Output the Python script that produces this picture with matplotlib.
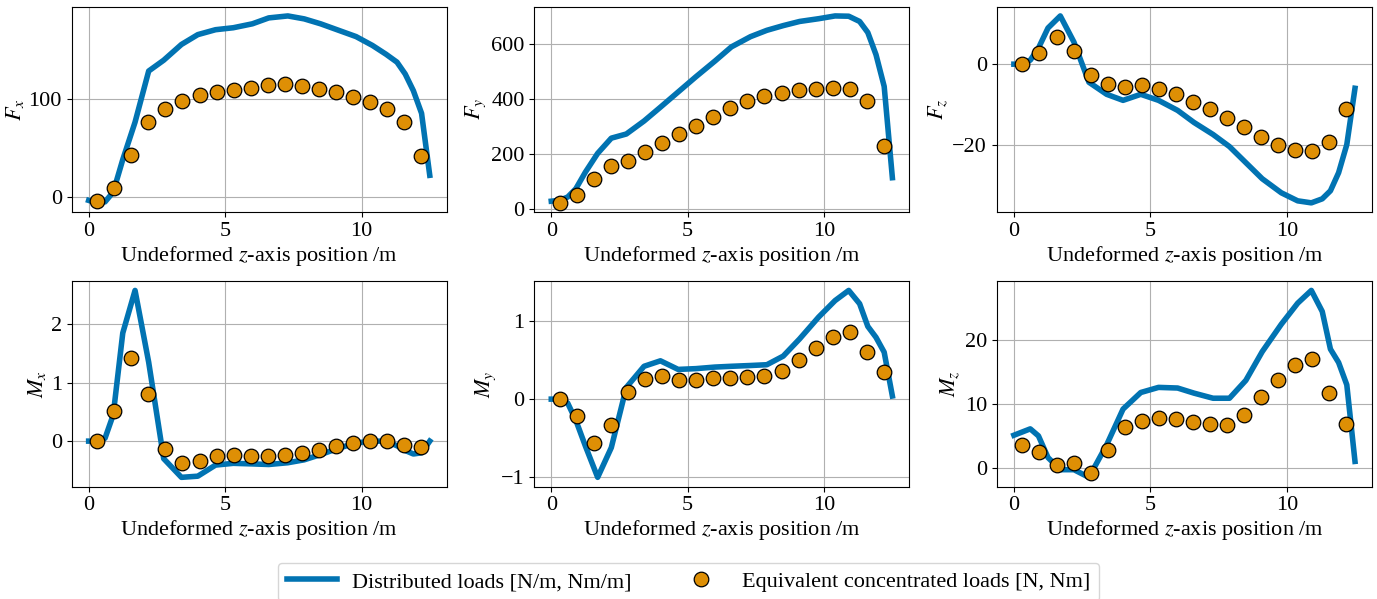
import matplotlib
matplotlib.use('Agg')
import matplotlib.pyplot as plt
from matplotlib.ticker import MultipleLocator
import numpy as np

plt.rcParams['font.family'] = ['Liberation Serif', 'DejaVu Serif']
plt.rcParams['mathtext.fontset'] = 'stix'
plt.rcParams['font.size'] = 16

BLU = '#0173B2'
ARANCIO = '#DE8F05'

# stazioni della linea (carichi distribuiti) e dei punti (carichi concentrati)
z_linea = [0, 0.3, 0.6, 0.9, 1.25, 1.7, 2.2, 2.75, 3.4, 4.0, 4.65, 5.3, 6.0,
           6.6, 7.3, 7.9, 8.5, 9.1, 9.8, 10.4, 10.9, 11.3, 11.6, 11.9, 12.2, 12.5]
z_punti = [0.3125, 0.9375, 1.5625, 2.1875, 2.8125, 3.4375, 4.0625, 4.6875,
           5.3125, 5.9375, 6.5625, 7.1875, 7.8125, 8.4375, 9.0625, 9.6875,
           10.3125, 10.9375, 11.5625, 12.1875]

Fx_dist = [-3.5, -6, -5, 5, 38, 76, 128, 139, 155, 165, 170, 172, 176,
           182, 184, 181, 176, 170, 163, 154, 145, 137, 125, 108, 85, 22]
Fx_conc = [-3.7, 9.2, 43, 76, 89, 98, 104, 107, 108.5, 111, 114, 115, 113,
           110, 106.5, 102, 96.6, 89, 76, 42]

Fy_dist = [30, 33, 45, 75, 135, 203, 258, 273, 320, 370, 425, 480, 537,
           588, 625, 648, 665, 680, 690, 700, 699, 680, 640, 560, 445, 115]
Fy_conc = [24, 51, 112, 159, 177, 207, 240, 272, 301, 335, 366, 392, 410,
           420, 431, 437, 440, 436, 392, 229]

Fz_dist = [0, 0, 1.0, 4, 9, 12, 5.5, -4.5, -7.5, -9, -7.5, -9, -11.5,
           -14.5, -17.5, -20.5, -24.5, -28.5, -32, -34, -34.5, -33.5, -31.5,
           -27, -20, -6]
Fz_conc = [0, 2.7, 6.7, 3.3, -2.7, -5, -5.6, -5.25, -6.1, -7.5, -9.4, -11.25,
           -13.3, -15.6, -18.1, -20.2, -21.4, -21.6, -19.4, -11.25]

Mx_dist = [0, 0, 0.05, 0.45, 1.85, 2.58, 1.35, -0.3, -0.62, -0.6, -0.41,
           -0.38, -0.39, -0.4, -0.37, -0.32, -0.23, -0.13, -0.03, 0.0, 0.0,
           -0.08, -0.16, -0.22, -0.2, 0.0]
Mx_conc = [0.01, 0.52, 1.43, 0.81, -0.14, -0.37, -0.34, -0.26, -0.24, -0.25,
           -0.25, -0.24, -0.2, -0.15, -0.09, -0.04, 0.01, 0.0, -0.07, -0.1]

My_dist = [0, 0, -0.05, -0.27, -0.6, -1.0, -0.62, 0.15, 0.42, 0.49, 0.38,
           0.39, 0.41, 0.42, 0.43, 0.44, 0.55, 0.77, 1.05, 1.26, 1.39, 1.22,
           0.93, 0.79, 0.6, 0.04]
My_conc = [0, -0.21, -0.56, -0.33, 0.09, 0.26, 0.3, 0.25, 0.25, 0.27, 0.27,
           0.28, 0.29, 0.36, 0.5, 0.65, 0.79, 0.86, 0.6, 0.35]

Mz_dist = [5.1, 5.6, 6.1, 5.0, 1.6, -0.3, -0.3, -1.5, 3.6, 9.2, 11.8, 12.6,
           12.5, 11.7, 10.9, 10.9, 13.7, 18.2, 22.5, 25.8, 27.8, 24.5, 18.6,
           16.5, 13, 1.0]
Mz_conc = [3.6, 2.4, 0.4, 0.7, -0.8, 2.8, 6.4, 7.3, 7.8, 7.6, 7.2, 6.9, 6.7,
           8.3, 11.1, 13.8, 16.1, 17.0, 11.7, 6.8]

pannelli = [
    (r'$F_x$', Fx_dist, Fx_conc, 100),
    (r'$F_y$', Fy_dist, Fy_conc, 200),
    (r'$F_z$', Fz_dist, Fz_conc, 20),
    (r'$M_x$', Mx_dist, Mx_conc, 1),
    (r'$M_y$', My_dist, My_conc, 1),
    (r'$M_z$', Mz_dist, Mz_conc, 10),
]

fig, axes = plt.subplots(2, 3, figsize=(13.77, 5.99), dpi=100)
fig.subplots_adjust(left=0.052, right=0.9964, top=0.989, bottom=0.1875,
                    wspace=0.233, hspace=0.335)

for ax, (etichetta, dist, conc, passo) in zip(axes.flat, pannelli):
    ax.plot(z_linea, dist, color=BLU, linewidth=4,
            label='Distributed loads [N/m, Nm/m]', zorder=2)
    ax.plot(z_punti, conc, linestyle='none', marker='o', markersize=10.5,
            markerfacecolor=ARANCIO, markeredgecolor='black',
            markeredgewidth=0.9, label='Equivalent concentrated loads [N, Nm]',
            zorder=3)
    ax.set_ylabel(etichetta, labelpad=2)
    ax.set_xlabel(r'Undeformed $z$-axis position /m', labelpad=2)
    ax.xaxis.set_major_locator(MultipleLocator(5))
    ax.yaxis.set_major_locator(MultipleLocator(passo))
    ax.grid(True, color='#b0b0b0', linewidth=0.8)
    ax.set_axisbelow(True)

handles, labels = axes[0, 0].get_legend_handles_labels()
fig.legend(handles, labels, loc='lower center', bbox_to_anchor=(0.5, -0.022),
           ncol=2, frameon=True, columnspacing=2.0, handlelength=2.25,
           handletextpad=0.7)

fig.savefig('out.png', dpi=100)
